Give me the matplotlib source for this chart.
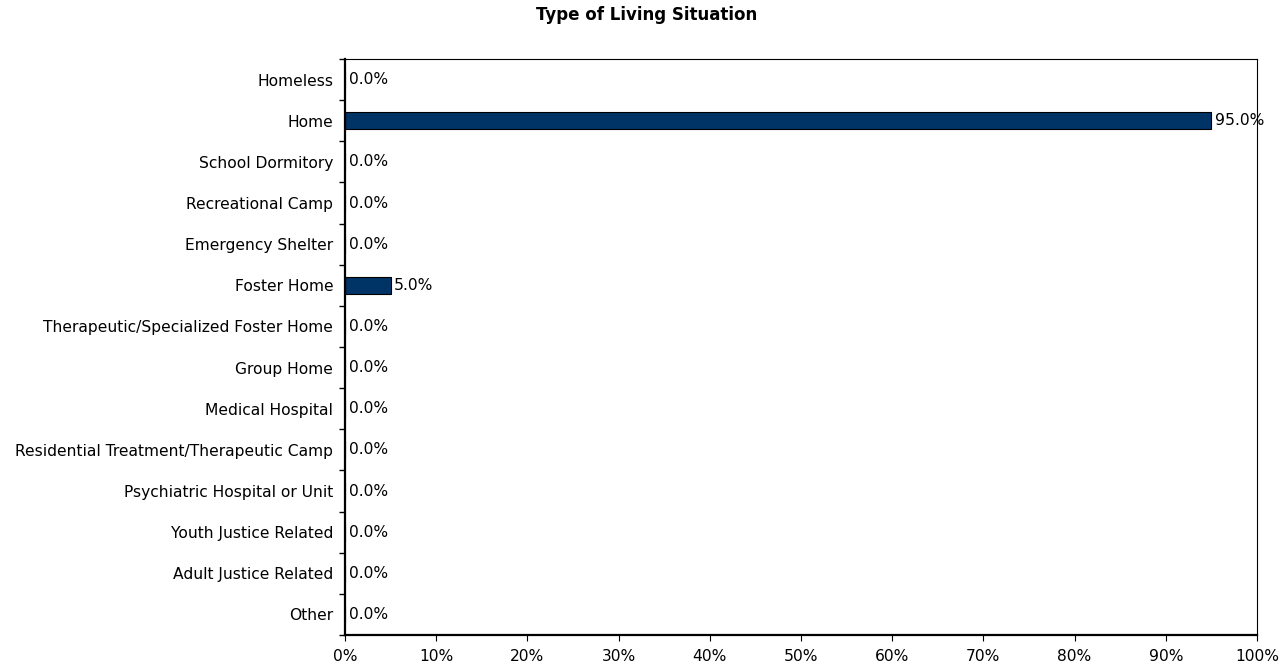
import numpy as np
import matplotlib
matplotlib.use("Agg")
from matplotlib import pyplot as plt
from matplotlib.ticker import FixedLocator, PercentFormatter

categories = ["Homeless", "Home", "School Dormitory", "Recreational Camp",
              "Emergency Shelter", "Foster Home",
              "Therapeutic/Specialized Foster Home", "Group Home",
              "Medical Hospital", "Residential Treatment/Therapeutic Camp",
              "Psychiatric Hospital or Unit", "Youth Justice Related",
              "Adult Justice Related", "Other"]
percent = [0.0, 95.0, 0.0, 0.0, 0.0, 5.0, 0.0, 0.0, 0.0, 0.0, 0.0, 0.0, 0.0, 0.0]

plt.rcParams['font.family'] = ['DejaVu Sans']
fs = 11.2

fig = plt.figure(figsize=(12.81, 6.66), dpi=100)
ax = fig.add_axes([345/1281, 1-635/666, 912/1281, 576/666])

y = np.arange(len(categories))
ax.barh(y, percent, height=0.41, color="#003366", edgecolor="black", linewidth=0.8)

for yi, v in zip(y, percent):
    ax.text(v + 0.4, yi, "%.1f%%" % v, va="center", ha="left", fontsize=fs)

ax.set_xlim(0, 100)
ax.set_ylim(len(categories) - 0.5, -0.5)
ax.set_xticks(np.arange(0, 101, 10))
ax.xaxis.set_major_formatter(PercentFormatter(decimals=0))
ax.set_yticks(y)
ax.set_yticklabels(categories)
ax.yaxis.set_minor_locator(FixedLocator(np.arange(-0.5, len(categories), 1)))
ax.tick_params(axis="y", which="major", length=0, pad=8.5, labelsize=fs)
ax.tick_params(axis="y", which="minor", length=4, direction="out", width=1)
ax.tick_params(axis="x", length=4, direction="out", labelsize=fs, pad=6)

ax.spines["left"].set_linewidth(1.6)
ax.spines["bottom"].set_linewidth(1.6)
ax.spines["top"].set_linewidth(0.8)
ax.spines["right"].set_linewidth(0.8)

fig.text(0.505, 0.977, "Type of Living Situation", ha="center", va="center",
         fontsize=12, fontweight="bold")

fig.savefig("out.png", dpi=100)
